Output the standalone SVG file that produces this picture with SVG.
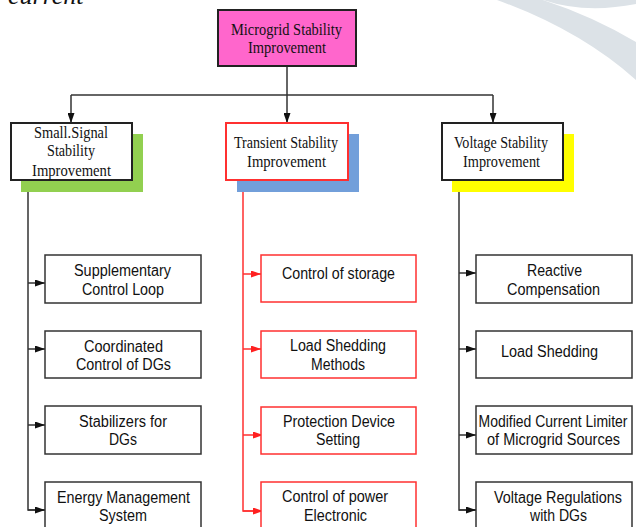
<svg xmlns="http://www.w3.org/2000/svg" width="636" height="527" viewBox="0 0 636 527">
<style>
.bg{fill:#ffffff}
.wm{fill:#DCE2E7;stroke:none}
.hd{font-family:"Liberation Serif","Times New Roman",serif;font-size:16.5px;fill:#111;text-anchor:middle}
.tx{font-family:"Liberation Sans",Arial,sans-serif;font-size:16px;fill:#111;text-anchor:middle}
.box{fill:#ffffff;stroke:#333;stroke-width:1.5}
.rbox{fill:#ffffff;stroke:#FF3030;stroke-width:1.5}
.hbox{fill:#ffffff;stroke:#222;stroke-width:2}
.line{fill:none;stroke:#333;stroke-width:1.5}
.rline{fill:none;stroke:#FF3030;stroke-width:1.5}
.cap{font-family:"Liberation Serif","Times New Roman",serif;font-style:italic;font-size:26px;fill:#111}
</style>
<defs>
<marker id="ah" viewBox="0 0 10 7" refX="10" refY="3.5" markerWidth="10" markerHeight="7" markerUnits="userSpaceOnUse" orient="auto">
<path d="M0,0 L10,3.5 L0,7 Z" fill="#111"/>
</marker>
<marker id="ahr" viewBox="0 0 10 7" refX="10" refY="3.5" markerWidth="10" markerHeight="7" markerUnits="userSpaceOnUse" orient="auto">
<path d="M0,0 L10,3.5 L0,7 Z" fill="#FF2020"/>
</marker>
</defs>
<rect class="bg" x="0" y="0" width="636" height="527"/>
<g id="watermark">
<path class="wm" d="M543,0 Q585,14 636,4 L636,0 Z"/>
<path class="wm" d="M497,0 L543,0 Q592,16 636,42 L636,80 Q580,30 497,0 Z"/>
</g>
<text class="cap" x="8" y="4">current</text>

<g id="connectors">
<path class="line" d="M287,66 V95"/>
<path class="line" d="M71,95 H493"/>
<path class="line" d="M71,95 V123" marker-end="url(#ah)"/>
<path class="line" d="M287,95 V123" marker-end="url(#ah)"/>
<path class="line" d="M493,95 V123" marker-end="url(#ah)"/>
<path class="line" d="M28,180 V510 H45"/>
<path class="line" d="M28,283 H45" marker-end="url(#ah)"/>
<path class="line" d="M28,349 H45" marker-end="url(#ah)"/>
<path class="line" d="M28,425 H45" marker-end="url(#ah)"/>
<path class="line" d="M28,510 H45" marker-end="url(#ah)"/>
<path class="rline" d="M243,180 V511 H261"/>
<path class="rline" d="M243,274 H261" marker-end="url(#ahr)"/>
<path class="rline" d="M243,349 H261" marker-end="url(#ahr)"/>
<path class="rline" d="M243,435 H263" marker-end="url(#ahr)"/>
<path class="rline" d="M243,511 H263" marker-end="url(#ahr)"/>
<path class="line" d="M459,180 V510 H476"/>
<path class="line" d="M459,273 H476" marker-end="url(#ah)"/>
<path class="line" d="M459,349 H476" marker-end="url(#ah)"/>
<path class="line" d="M459,435 H476" marker-end="url(#ah)"/>
<path class="line" d="M459,510 H476" marker-end="url(#ah)"/>
</g>

<g id="root">
<rect x="218" y="10" width="138" height="56" fill="#FF66CC" stroke="#222" stroke-width="2"/>
<text class="hd" x="286.5" y="35" textLength="111" lengthAdjust="spacingAndGlyphs">Microgrid Stability</text>
<text class="hd" x="287" y="53" textLength="78" lengthAdjust="spacingAndGlyphs">Improvement</text>
</g>

<g id="small-signal">
<rect x="21" y="134" width="122" height="58" fill="#92D050"/>
<rect class="hbox" x="11" y="123" width="121" height="57"/>
<text class="hd" x="71" y="138" textLength="74" lengthAdjust="spacingAndGlyphs">Small.Signal</text>
<text class="hd" x="71" y="156" textLength="48" lengthAdjust="spacingAndGlyphs">Stability</text>
<text class="hd" x="71.5" y="176" textLength="79" lengthAdjust="spacingAndGlyphs">Improvement</text>
</g>

<g id="transient">
<rect x="237" y="134" width="122" height="58" fill="#729FDA"/>
<rect x="226" y="123" width="122" height="57" fill="#fff" stroke="#FF3030" stroke-width="2"/>
<text class="hd" x="286" y="148" textLength="104" lengthAdjust="spacingAndGlyphs">Transient Stability</text>
<text class="hd" x="286.5" y="167" textLength="79" lengthAdjust="spacingAndGlyphs">Improvement</text>
</g>

<g id="voltage">
<rect x="452" y="134" width="122" height="58" fill="#FFFF00"/>
<rect class="hbox" x="442" y="123" width="121" height="57"/>
<text class="hd" x="501" y="148" textLength="94" lengthAdjust="spacingAndGlyphs">Voltage Stability</text>
<text class="hd" x="501.5" y="167" textLength="77" lengthAdjust="spacingAndGlyphs">Improvement</text>
</g>

<g id="supplementary">
<rect class="box" x="45" y="255" width="156" height="48"/>
<text class="tx" x="122.5" y="276" textLength="97" lengthAdjust="spacingAndGlyphs">Supplementary</text>
<text class="tx" x="123" y="295" textLength="82" lengthAdjust="spacingAndGlyphs">Control Loop</text>
</g>
<g id="coordinated">
<rect class="box" x="45" y="331" width="156" height="47"/>
<text class="tx" x="123.5" y="352" textLength="79" lengthAdjust="spacingAndGlyphs">Coordinated</text>
<text class="tx" x="123.5" y="370" textLength="95" lengthAdjust="spacingAndGlyphs">Control of DGs</text>
</g>
<g id="stabilizers">
<rect class="box" x="45" y="406" width="156" height="48"/>
<text class="tx" x="123" y="427" textLength="88" lengthAdjust="spacingAndGlyphs">Stabilizers for</text>
<text class="tx" x="123" y="445" textLength="28" lengthAdjust="spacingAndGlyphs">DGs</text>
</g>
<g id="energy">
<rect class="box" x="45" y="482" width="156" height="50"/>
<text class="tx" x="123.5" y="503" textLength="133" lengthAdjust="spacingAndGlyphs">Energy Management</text>
<text class="tx" x="123" y="521" textLength="48" lengthAdjust="spacingAndGlyphs">System</text>
</g>

<g id="storage">
<rect class="rbox" x="261" y="255" width="155" height="47"/>
<text class="tx" x="338.5" y="279" textLength="113" lengthAdjust="spacingAndGlyphs">Control of storage</text>
</g>
<g id="load-shedding-methods">
<rect class="rbox" x="261" y="331" width="155" height="47"/>
<text class="tx" x="338" y="351" textLength="96" lengthAdjust="spacingAndGlyphs">Load Shedding</text>
<text class="tx" x="338" y="370" textLength="54" lengthAdjust="spacingAndGlyphs">Methods</text>
</g>
<g id="protection">
<rect class="rbox" x="261" y="407" width="155" height="47"/>
<text class="tx" x="339" y="427" textLength="112" lengthAdjust="spacingAndGlyphs">Protection Device</text>
<text class="tx" x="338" y="445" textLength="44" lengthAdjust="spacingAndGlyphs">Setting</text>
</g>
<g id="power-electronic">
<rect class="rbox" x="261" y="482" width="155" height="50"/>
<text class="tx" x="335" y="502" textLength="106" lengthAdjust="spacingAndGlyphs">Control of power</text>
<text class="tx" x="335.5" y="521" textLength="63" lengthAdjust="spacingAndGlyphs">Electronic</text>
</g>

<g id="reactive">
<rect class="box" x="476" y="255" width="156" height="48"/>
<text class="tx" x="554.5" y="276" textLength="55" lengthAdjust="spacingAndGlyphs">Reactive</text>
<text class="tx" x="553.5" y="295" textLength="93" lengthAdjust="spacingAndGlyphs">Compensation</text>
</g>
<g id="load-shedding">
<rect class="box" x="476" y="331" width="156" height="47"/>
<text class="tx" x="549.5" y="357" textLength="97" lengthAdjust="spacingAndGlyphs">Load Shedding</text>
</g>
<g id="current-limiter">
<rect class="box" x="476" y="406" width="156" height="48"/>
<text class="tx" x="478.5" y="427" style="text-anchor:start" textLength="149" lengthAdjust="spacingAndGlyphs">Modified Current Limiter</text>
<text class="tx" x="553.5" y="445" textLength="133" lengthAdjust="spacingAndGlyphs">of Microgrid Sources</text>
</g>
<g id="voltage-regulations">
<rect class="box" x="476" y="482" width="156" height="50"/>
<text class="tx" x="558" y="503" textLength="128" lengthAdjust="spacingAndGlyphs">Voltage Regulations</text>
<text class="tx" x="558.5" y="521" textLength="57" lengthAdjust="spacingAndGlyphs">with DGs</text>
</g>
</svg>
